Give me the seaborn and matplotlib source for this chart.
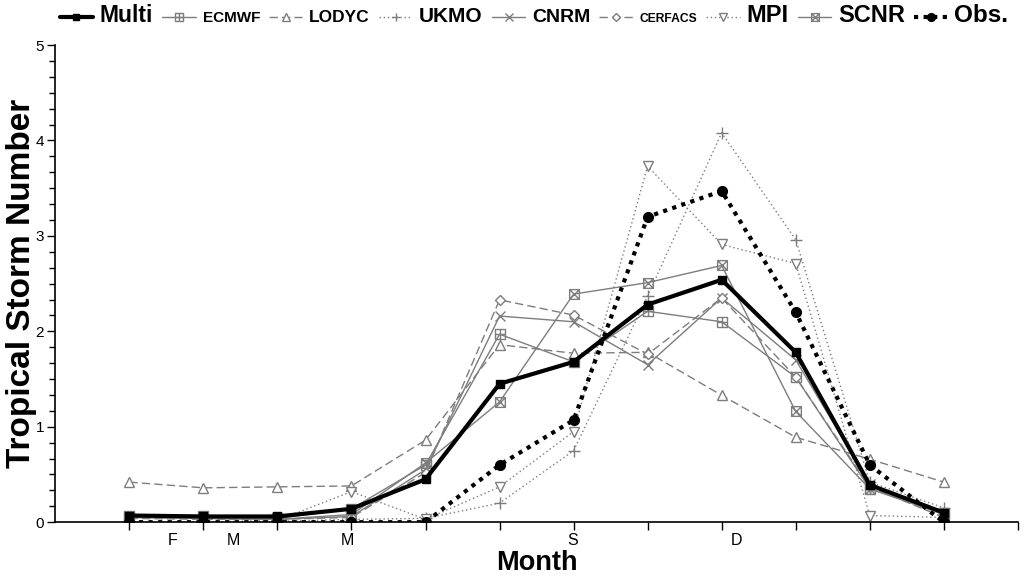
import numpy as np
import seaborn as sns
import matplotlib.pyplot as plt
from matplotlib.path import Path
from matplotlib.ticker import MultipleLocator

## data
months = list(range(1, 13))
multi = [0.07, 0.06, 0.06, 0.14, 0.45, 1.45, 1.68, 2.28, 2.54, 1.78, 0.39, 0.10]
ecmwf = [0.07, 0.06, 0.04, 0.14, 0.60, 1.97, 1.68, 2.21, 2.10, 1.52, 0.35, 0.10]
lodyc = [0.42, 0.36, 0.37, 0.38, 0.86, 1.86, 1.77, 1.78, 1.33, 0.89, 0.66, 0.42]
ukmo = [0.00, 0.00, 0.01, 0.03, 0.04, 0.20, 0.75, 2.37, 4.08, 2.96, 0.42, 0.15]
cnrm = [0.05, 0.04, 0.03, 0.06, 0.55, 2.16, 2.10, 1.65, 2.35, 1.70, 0.40, 0.08]
cerfacs = [0.04, 0.03, 0.03, 0.05, 0.52, 2.33, 2.17, 1.76, 2.35, 1.52, 0.37, 0.05]
mpi = [0.00, 0.00, 0.02, 0.32, 0.03, 0.37, 0.95, 3.73, 2.91, 2.71, 0.07, 0.05]
scnr = [0.05, 0.04, 0.03, 0.08, 0.62, 1.26, 2.39, 2.51, 2.69, 1.16, 0.35, 0.08]
obs = [0, 0, 0, 0, 0, 0.60, 1.07, 3.20, 3.47, 2.20, 0.60, 0.00]

month_labels = ["F", "M", "M", "S", "D"]
month_label_pos = [1.59, 2.40, 3.94, 6.99, 9.20]

## custom markers: square with plus, square with cross
sq = [(-1, -1), (1, -1), (1, 1), (-1, 1), (-1, -1)]
sq_codes = [Path.MOVETO] + [Path.LINETO] * 4
sq_plus = Path(sq + [(0, -1), (0, 1), (-1, 0), (1, 0)],
               sq_codes + [Path.MOVETO, Path.LINETO, Path.MOVETO, Path.LINETO])
sq_x = Path(sq + [(-1, -1), (1, 1), (-1, 1), (1, -1)],
            sq_codes + [Path.MOVETO, Path.LINETO, Path.MOVETO, Path.LINETO])

grey = "#7d7d7d"
series = [
    ("Multi", multi, dict(color="black", lw=3, ls="-", marker="s", ms=6, mfc="black", mec="black")),
    ("ECMWF", ecmwf, dict(color=grey, lw=1, ls="-", marker=sq_plus, ms=7, mfc="none", mec=grey)),
    ("LODYC", lodyc, dict(color=grey, lw=1, ls=(0, (6, 3)), marker="^", ms=7, mfc="white", mec=grey)),
    ("UKMO", ukmo, dict(color=grey, lw=1, ls=(0, (1, 2)), marker="+", ms=8, mfc="none", mec=grey)),
    ("CNRM", cnrm, dict(color=grey, lw=1, ls="-", marker="x", ms=7, mfc="none", mec=grey)),
    ("CERFACS", cerfacs, dict(color=grey, lw=1, ls=(0, (6, 3)), marker="D", ms=5, mfc="white", mec=grey)),
    ("MPI", mpi, dict(color=grey, lw=1, ls=(0, (1, 2)), marker="v", ms=7, mfc="white", mec=grey)),
    ("SCNR", scnr, dict(color=grey, lw=1, ls="-", marker=sq_x, ms=7, mfc="none", mec=grey)),
    ("Obs.", obs, dict(color="black", lw=3, ls=(0, (1, 1.3)), marker="o", ms=7, mfc="black", mec="black")),
]

sns.set_style("ticks")
plt.rcParams['font.family'] = ['Liberation Sans', 'DejaVu Sans']
for k in ["text.color", "axes.labelcolor", "xtick.color", "ytick.color", "axes.edgecolor"]:
    plt.rcParams[k] = "black"

fig = plt.figure(figsize=(10.24, 5.77), dpi=100)
ax = fig.add_axes([0.054, 0.095, 0.94, 0.827])

# grey models first, then Multi, Obs on top
order = [1, 2, 3, 4, 5, 6, 7, 0, 8]
for i in order:
    name, vals, st = series[i]
    sns.lineplot(x=months, y=vals, ax=ax, label=name, color=st["color"],
                 linewidth=st["lw"], linestyle=st["ls"], marker=st["marker"],
                 markersize=st["ms"], markerfacecolor=st["mfc"],
                 markeredgecolor=st["mec"], markeredgewidth=1.0,
                 zorder=3 if st["color"] == "black" else 2)

ax.set_xlim(0, 13)
ax.set_ylim(0, 5)
ax.set_xticks(months + [13])
ax.set_xticklabels([])
ax.set_xticks(month_label_pos, minor=True)
ax.set_xticklabels(month_labels, minor=True, fontsize=11.5)
ax.tick_params(axis="x", which="minor", length=0, pad=8)
ax.tick_params(axis="x", which="major", length=6, width=1, direction="out")
ax.yaxis.set_major_locator(MultipleLocator(1))
ax.yaxis.set_minor_locator(MultipleLocator(1 / 6))
ax.tick_params(axis="y", which="major", length=6, width=1, labelsize=11, pad=2)
ax.tick_params(axis="y", which="minor", length=4, width=1, left=True)
sns.despine(ax=ax)
for s in ["left", "bottom"]:
    ax.spines[s].set_linewidth(1.2)

ax.set_xlabel("Month", fontsize=19.5, fontweight="bold", labelpad=1)
ax.set_ylabel("Tropical Storm Number", fontsize=24, fontweight="bold", labelpad=-1)

handles, labels = ax.get_legend_handles_labels()
lookup = dict(zip(labels, handles))
names = [s[0] for s in series]
leg = fig.legend([lookup[n] for n in names], names, loc="upper center",
                 bbox_to_anchor=(0.5215, 1.015), ncol=9, frameon=False,
                 handlelength=2.4, handletextpad=0.5, columnspacing=0.65,
                 markerscale=0.8)
ax.get_legend().remove()
sizes = {"Multi": 16.5, "ECMWF": 11, "LODYC": 12.5, "UKMO": 15, "CNRM": 14,
         "CERFACS": 8.7, "MPI": 17, "SCNR": 17, "Obs.": 17.5}
for t in leg.get_texts():
    t.set_fontweight("bold")
    t.set_fontsize(sizes[t.get_text()])

plt.savefig("out.png", dpi=100)
